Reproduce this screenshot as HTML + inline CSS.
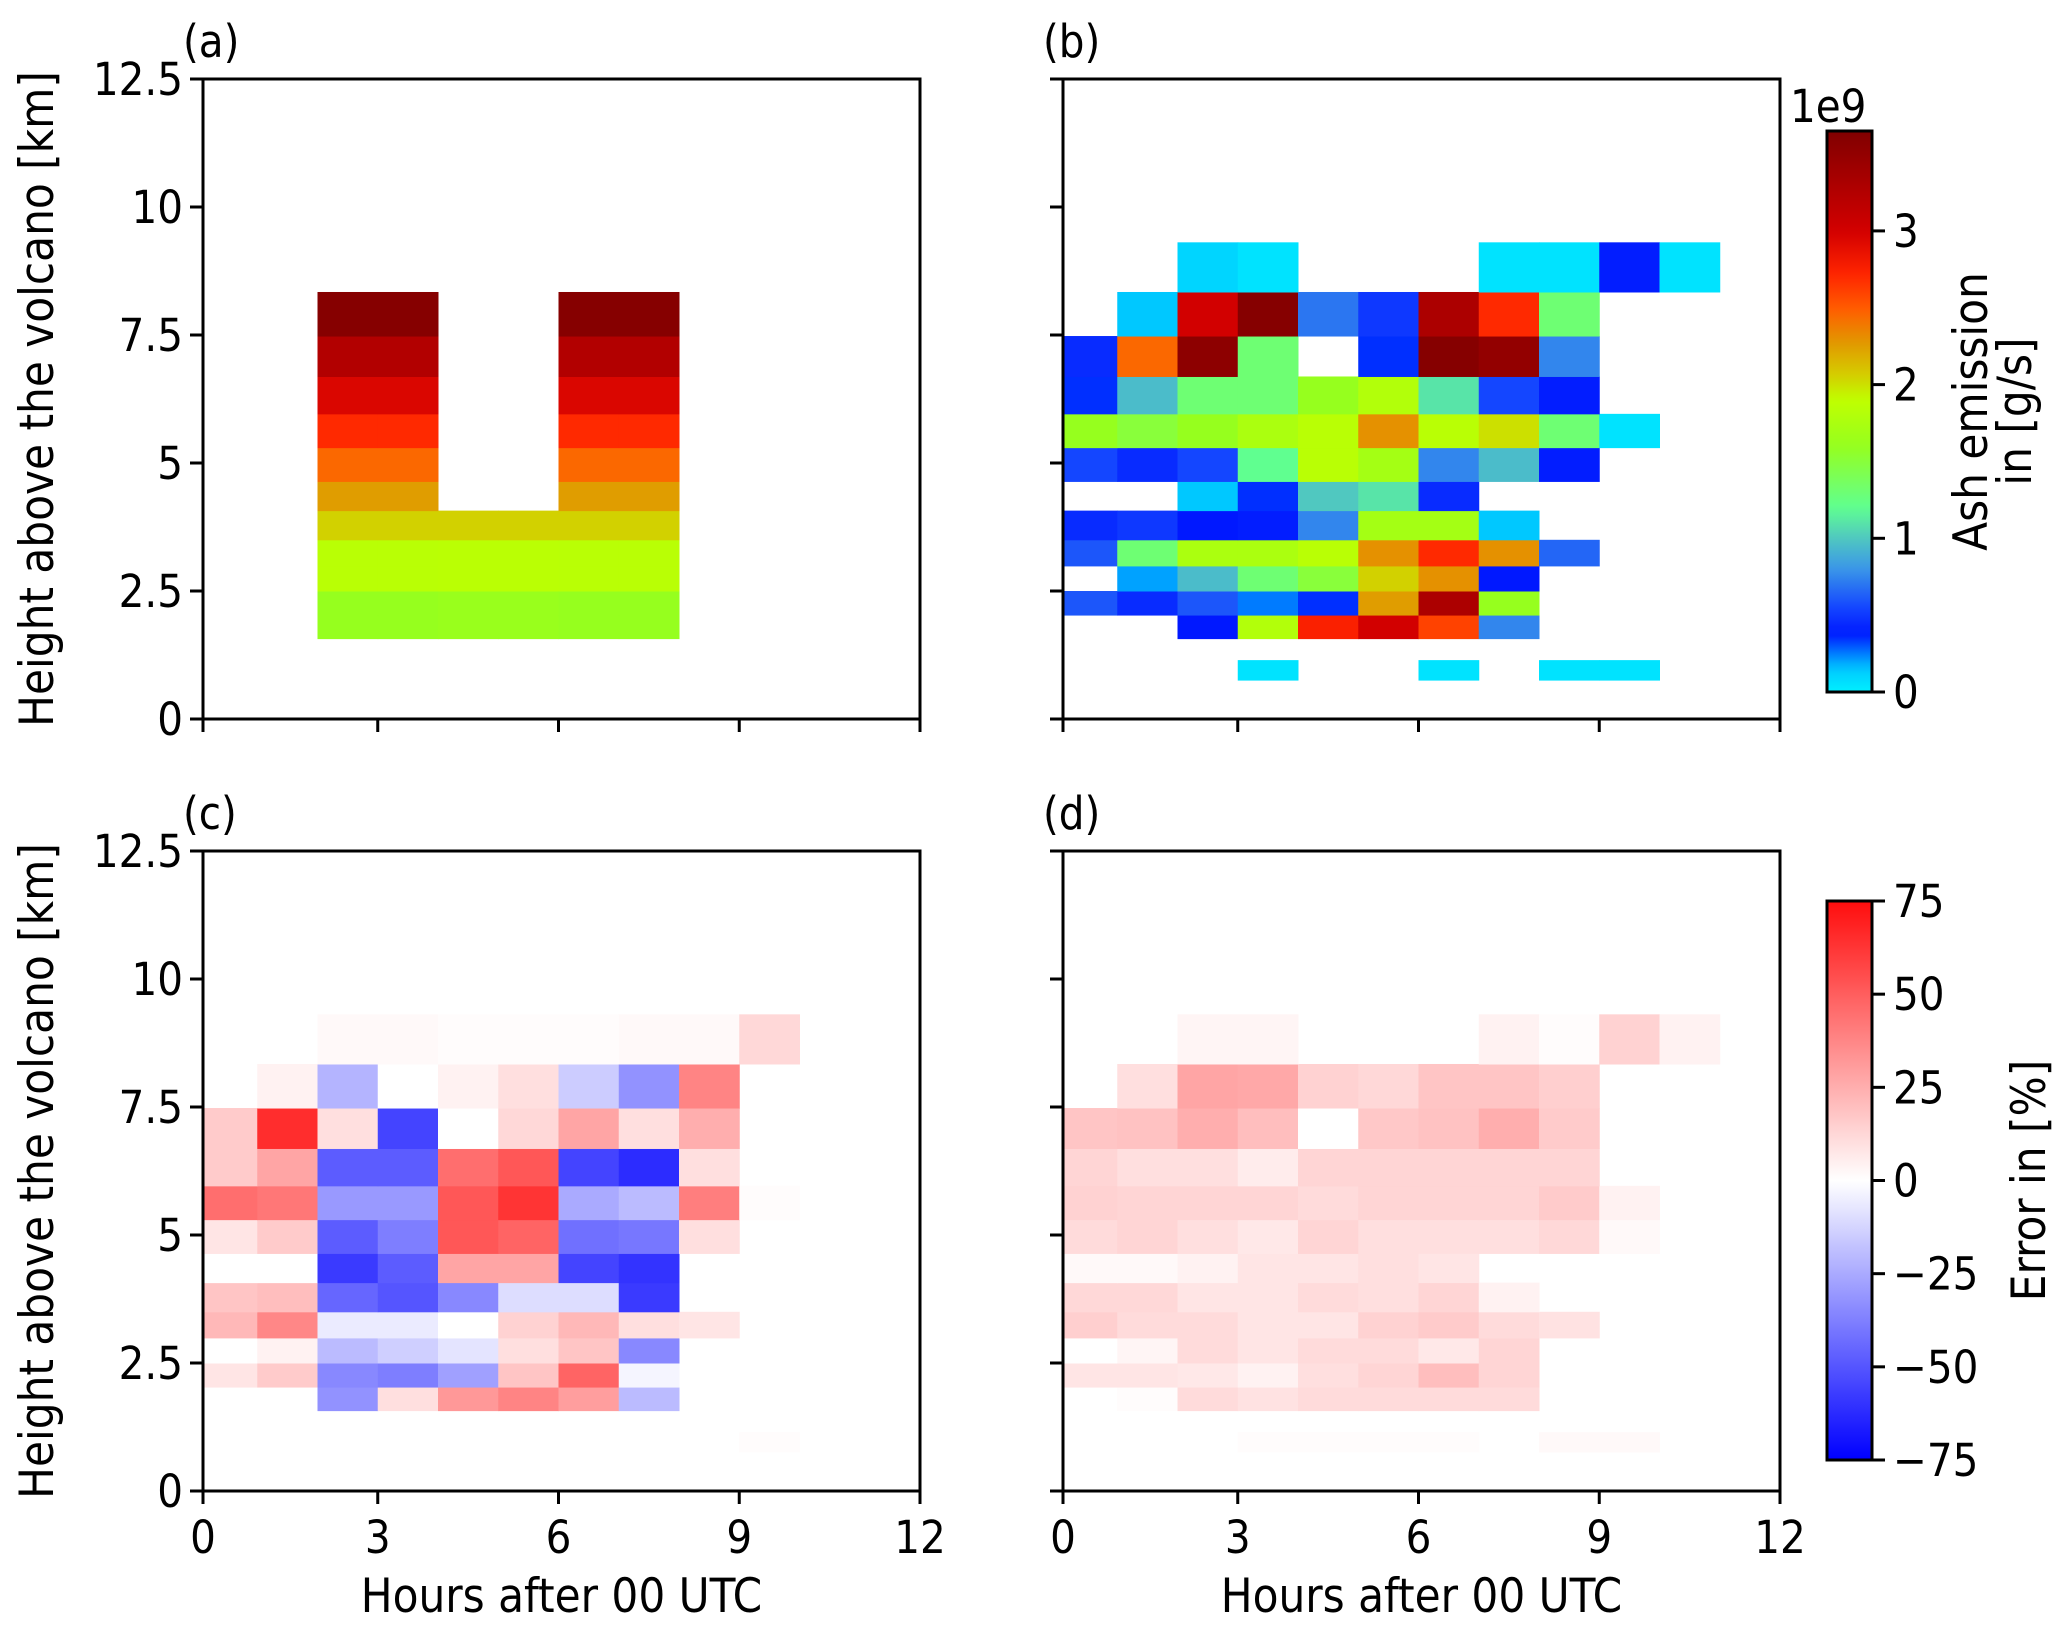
<!DOCTYPE html>
<html><head><meta charset="utf-8"><style>
html,body{margin:0;padding:0;background:#fff;}
svg text{font-family:"DejaVu Sans Condensed","DejaVu Sans","Liberation Sans",sans-serif;font-stretch:condensed;fill:#000;}
</style></head><body>
<svg id="fig" width="2067" height="1628" viewBox="0 0 2067 1628" xmlns="http://www.w3.org/2000/svg"></svg>
<script>
// ---- data ----
const rowBottoms = [0.76,1.57,2.03,2.50,2.99,3.50,4.07,4.64,5.30,5.96,6.69,7.48,8.34];
const rowTops    = [1.15,2.03,2.50,2.99,3.50,4.07,4.64,5.30,5.96,6.69,7.48,8.34,9.31];
const hourStarts = [0,1,2,3,4,5,6,7,8,9,10];
const N = null;
const aVals = [
 [N,N,N,N,N,N,N,N,N,N,N],
 [N,N,1.6,1.6,1.62,1.62,1.6,1.6,N,N,N],
 [N,N,1.6,1.6,1.62,1.62,1.6,1.6,N,N,N],
 [N,N,1.85,1.85,1.86,1.86,1.85,1.85,N,N,N],
 [N,N,1.85,1.85,1.86,1.86,1.85,1.85,N,N,N],
 [N,N,2.05,2.05,2.05,2.05,2.05,2.05,N,N,N],
 [N,N,2.25,2.25,N,N,2.25,2.25,N,N,N],
 [N,N,2.45,2.45,N,N,2.45,2.45,N,N,N],
 [N,N,2.7,2.7,N,N,2.7,2.7,N,N,N],
 [N,N,2.95,2.95,N,N,2.95,2.95,N,N,N],
 [N,N,3.25,3.25,N,N,3.25,3.25,N,N,N],
 [N,N,3.6,3.6,N,N,3.6,3.6,N,N,N],
 [N,N,N,N,N,N,N,N,N,N,N]];
const bVals = [
 [N,N,N,0.05,N,N,0.05,N,0.05,0.05,N],
 [N,N,0.38,1.8,2.75,3.0,2.6,0.75,N,N,N],
 [0.6,0.45,0.6,0.25,0.35,2.25,3.3,1.6,N,N,N],
 [N,0.2,0.95,1.3,1.5,2.05,2.3,0.38,N,N,N],
 [0.6,1.3,1.75,1.75,1.85,2.3,2.7,2.3,0.65,N,N],
 [0.45,0.5,0.38,0.4,0.75,1.7,1.7,0.15,N,N,N],
 [N,N,0.15,0.35,1.0,1.1,0.45,N,N,N,N],
 [0.55,0.45,0.55,1.2,1.85,1.7,0.75,0.95,0.4,N,N],
 [1.6,1.5,1.6,1.75,1.85,2.3,1.85,2.0,1.3,0.05,N],
 [0.35,0.95,1.3,1.3,1.6,1.8,1.1,0.55,0.4,N,N],
 [0.45,2.45,3.55,1.3,N,0.35,3.6,3.5,0.75,N,N],
 [N,0.15,3.0,3.6,0.7,0.5,3.3,2.7,1.3,N,N],
 [N,N,0.1,0.05,N,N,N,0.05,0.05,0.4,0.05]];
const cVals = [
 [N,N,N,N,N,N,N,N,N,1,N],
 [N,N,-32,10,32,38,30,-20,N,N,N],
 [8,16,-35,-38,-28,18,48,-3,N,N,N],
 [0,4,-20,-14,-8,10,18,-35,N,N,N],
 [22,37,-6,-6,0,14,22,10,8,N,N],
 [18,20,-45,-50,-35,-10,-10,-58,N,N,N],
 [0,0,-58,-48,28,28,-55,-60,N,N,N],
 [8,16,-48,-38,52,48,-42,-40,10,N,N],
 [45,42,-30,-30,52,63,-25,-20,40,1,N],
 [16,28,-48,-48,45,52,-55,-62,10,N,N],
 [16,65,10,-55,0,12,28,10,25,N,N],
 [N,4,-22,0,4,10,-15,-32,38,N,N],
 [N,N,2,2,1,1,1,2,2,12,N]];
const dVals = [
 [N,N,N,1,1,1,1,N,2,2,N],
 [0,1,11,9,11,11,11,11,N,N,N],
 [8,8,7,4,10,13,20,13,N,N,N],
 [0,3,11,8,11,11,7,13,N,N,N],
 [15,11,11,8,8,14,16,11,9,N,N],
 [12,12,8,8,11,10,13,4,N,N,N],
 [2,2,4,8,8,10,8,N,N,N,N],
 [11,13,10,7,13,10,10,10,12,2,N],
 [14,13,13,13,11,13,13,13,16,4,N],
 [13,10,10,6,13,13,13,13,13,N,N],
 [18,19,25,20,0,17,19,25,16,N,N],
 [N,10,28,27,14,12,18,18,15,N,N],
 [N,N,3,3,N,N,N,4,1,14,4]];
const xTicks = [0,3,6,9,12];
const yTicks = [0,2.5,5,7.5,10,12.5];
const yTickLabels = ["0","2.5","5","7.5","10","12.5"];
const ashTicks = [0,1,2,3];
const errTicks = [-75,-50,-25,0,25,50,75];
const errTickLabels = ["\u221275","\u221250","\u221225","0","25","50","75"];

// ---- colormaps ----
const jetStops = [[0,[0,240,255]],[0.15,[0,200,255]],[0.38,[0,24,255]],[0.55,[20,70,255]],[0.8,[58,150,232]],[1.0,[80,200,192]],[1.2,[96,255,144]],[1.6,[150,255,30]],[1.9,[192,255,0]],[2.08,[214,200,0]],[2.28,[226,150,0]],[2.48,[255,96,0]],[2.72,[255,36,0]],[3.0,[210,0,0]],[3.65,[128,0,0]]];
const ASHMAX = 3.65;
function jet(v){
  if(v<=jetStops[0][0]) return rgb(jetStops[0][1]);
  for(let i=1;i<jetStops.length;i++){
    if(v<=jetStops[i][0]){const a=jetStops[i-1],b=jetStops[i];const t=(v-a[0])/(b[0]-a[0]);
      return rgb(a[1].map((c,k)=>c+(b[1][k]-c)*t));}
  }
  return rgb(jetStops[jetStops.length-1][1]);
}
function bwr(v){
  const t=Math.max(-1,Math.min(1,v/75));
  if(t>=0) return rgb([255,255*(1-t*0.95),255*(1-t*0.95)]);
  return rgb([255*(1+t),255*(1+t),255]);
}
function rgb(a){return 'rgb('+a.map(c=>Math.round(c)).join(',')+')';}

// ---- layout ----
const NS='http://www.w3.org/2000/svg';
const svg=document.getElementById('fig');
function mk(tag,attrs,parent){const e=document.createElementNS(NS,tag);for(const k in attrs)e.setAttribute(k,attrs[k]);(parent||svg).appendChild(e);return e;}
const PW=717, PH=640;
const FS=45, TFS=47;
const panels=[
 {id:'a',x0:203,y0:79,vals:aVals,cmap:jet,ylab:true,xlab:false},
 {id:'b',x0:1063,y0:79,vals:bVals,cmap:jet,ylab:false,xlab:false},
 {id:'c',x0:203,y0:851,vals:cVals,cmap:bwr,ylab:true,xlab:true},
 {id:'d',x0:1063,y0:851,vals:dVals,cmap:bwr,ylab:false,xlab:true}];
const pxPerHour=(PW+6)/12;

panels.forEach(p=>{
  const g=mk('g',{});
  
  
  const xs=h=>p.x0-6+h*pxPerHour;
  const ys=k=>p.y0+PH-k*(PH/12.5);
  const cg=mk('g',{},g);
  
  
  p.vals.forEach((row,ri)=>{
    row.forEach((v,ci)=>{
      if(v===null) return;
      let xa=Math.max(p.x0,xs(hourStarts[ci])), xb=Math.min(p.x0+PW,xs(hourStarts[ci]+1));
      const ya=ys(rowTops[ri]), yb=ys(rowBottoms[ri]);
      const r=mk('rect',{x:xa,y:ya,width:xb-xa+0.5,height:yb-ya+0.5,fill:p.cmap(v)},cg);
      
      
    });
  });
  const frame=mk('rect',{x:p.x0,y:p.y0,width:PW,height:PH,fill:'none',stroke:'#000','stroke-width':3},g);
  
  
  xTicks.forEach(t=>{
    const x= t===0? p.x0 : xs(t);
    mk('line',{x1:x,x2:x,y1:p.y0+PH,y2:p.y0+PH+13,stroke:'#000','stroke-width':3},g);
    if(p.xlab){const tx=mk('text',{x:x,y:p.y0+PH+62,'font-size':FS,'text-anchor':'middle'},g);tx.textContent=String(t);
      
      }
  });
  yTicks.forEach((t,i)=>{
    const y=ys(t);
    mk('line',{x1:p.x0-13,x2:p.x0,y1:y,y2:y,stroke:'#000','stroke-width':3},g);
    if(p.ylab){const tx=mk('text',{x:p.x0-20,y:y+16,'font-size':FS,'text-anchor':'end'},g);tx.textContent=yTickLabels[i];
      
      }
  });
  if(p.ylab){const t=mk('text',{x:0,y:0,'font-size':TFS,'text-anchor':'middle',transform:'translate(53,'+(p.y0+PH/2)+') rotate(-90)'},g);t.textContent='Height above the volcano [km]';
    
    }
  if(p.xlab){const t=mk('text',{x:p.x0+PW/2,y:p.y0+PH+121,'font-size':TFS,'text-anchor':'middle'},g);t.textContent='Hours after 00 UTC';
    
    }
  const pl=mk('text',{x:p.x0-20,y:p.y0-22,'font-size':FS},g);pl.textContent='('+p.id+')';
  
  
});

// ---- colorbars ----
const defs=mk('defs',{});
function gradient(id,fn,lo,hi){
  const lg=mk('linearGradient',{id:id,x1:0,y1:1,x2:0,y2:0},defs);
  for(let i=0;i<=60;i++){const v=lo+(hi-lo)*i/60;mk('stop',{offset:(i/60),'stop-color':fn(v)},lg);}
}
gradient('gAsh',jet,0,ASHMAX);
gradient('gErr',bwr,-75,75);
function colorbar(name,x,yTop,yBot,grad,ticks,labels,lo,hi,titleX,lines){
  const g=mk('g',{});
  
  
  mk('rect',{x:x,y:yTop,width:45,height:yBot-yTop,fill:'url(#'+grad+')',stroke:'#000','stroke-width':3},g);
  ticks.forEach((t,i)=>{
    const y=yBot-(t-lo)/(hi-lo)*(yBot-yTop);
    mk('line',{x1:x+45,x2:x+58,y1:y,y2:y,stroke:'#000','stroke-width':3},g);
    const tx=mk('text',{x:x+66,y:y+16,'font-size':FS},g);tx.textContent=labels[i];
    
    
  });
  const cy=(yTop+yBot)/2;
  lines.forEach((ln,i)=>{
    const t=mk('text',{x:0,y:0,'font-size':TFS,'text-anchor':'middle',transform:'translate('+(titleX+i*44)+','+cy+') rotate(-90)'},g);
    t.textContent=ln;
    
    
  });
}
colorbar('ash-colorbar',1827,131,692,'gAsh',ashTicks,ashTicks.map(String),0,ASHMAX,1987,['Ash emission','in [g/s]']);
colorbar('error-colorbar',1827,901,1460,'gErr',errTicks,errTickLabels,-75,75,2045,['Error in [%]']);
const e9=mk('text',{x:1790,y:122,'font-size':FS});e9.textContent='1e9';


</script>
</body></html>
